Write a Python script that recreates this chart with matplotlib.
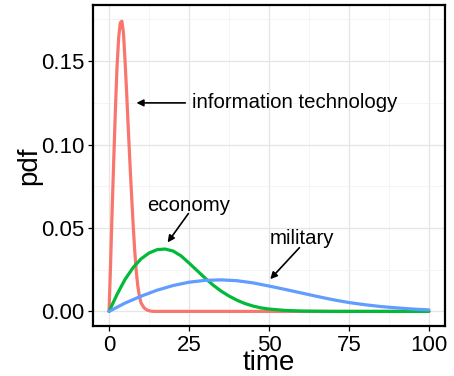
import matplotlib
matplotlib.use("Agg")
import matplotlib.pyplot as plt

plt.rcParams['font.family'] = ['Liberation Sans', 'DejaVu Sans']

# valores
t_it = [0, 0.5, 1, 1.5, 2, 2.5, 3, 3.5, 4, 4.5, 5, 5.5, 6, 6.5, 7, 7.5, 8, 8.5, 9, 9.5,
        10, 11, 12, 13, 14, 20, 30, 40, 50, 60, 70, 80, 90, 100]
pdf_it = [0, 0.030, 0.063, 0.093, 0.122, 0.147, 0.164, 0.173, 0.174, 0.167, 0.150, 0.131,
          0.110, 0.090, 0.071, 0.053, 0.037, 0.024, 0.015, 0.009,
          0.005, 0.002, 0.0007, 0.0002, 0, 0, 0, 0, 0, 0, 0, 0, 0, 0]

t_eco = [0, 2.5, 5, 7.5, 10, 12.5, 15, 17.5, 20, 22.5, 25, 27.5, 30, 32.5, 35, 37.5,
         40, 42.5, 45, 47.5, 50, 55, 60, 70, 80, 90, 100]
pdf_eco = [0, 0.0102, 0.0192, 0.0262, 0.0315, 0.0350, 0.0370, 0.0374, 0.0362, 0.0333,
           0.0290, 0.0245, 0.0200, 0.0158, 0.0122, 0.0092, 0.0067, 0.0047, 0.0032,
           0.0021, 0.0014, 0.0006, 0.0002, 0, 0, 0, 0]

t_mil = [0, 5, 10, 15, 20, 25, 30, 35, 40, 45, 50, 55, 60, 65, 70, 75, 80, 85, 90, 95, 100]
pdf_mil = [0, 0.0050, 0.0091, 0.0127, 0.0155, 0.0175, 0.0186, 0.0189, 0.0184, 0.0171,
           0.0152, 0.0132, 0.0111, 0.0090, 0.0070, 0.0053, 0.0040, 0.0029, 0.0021,
           0.0014, 0.0009]

x_ticks = [0, 25, 50, 75, 100]
y_ticks = [0.00, 0.05, 0.10, 0.15]
y_labels = ['0.00', '0.05', '0.10', '0.15']

fig = plt.figure(figsize=(4.54, 3.76), dpi=100)
ax = fig.add_axes([0.205, 0.133, 0.775, 0.854])

ax.plot(t_it, pdf_it, color='#F8766D', lw=2.3, solid_capstyle='round')
ax.plot(t_eco, pdf_eco, color='#00BA38', lw=2.3, solid_capstyle='round')
ax.plot(t_mil, pdf_mil, color='#619CFF', lw=2.3, solid_capstyle='round')

ax.set_xlim(-5, 105)
ax.set_ylim(-0.00875, 0.18375)
ax.set_xticks(x_ticks)
ax.set_xticks([12.5, 37.5, 62.5, 87.5], minor=True)
ax.set_yticks(y_ticks)
ax.set_yticklabels(y_labels)
ax.set_yticks([0.025, 0.075, 0.125, 0.175], minor=True)
ax.grid(which='major', color='#E5E5E5', lw=0.9)
ax.grid(which='minor', color='#F2F2F2', lw=0.6)
ax.set_axisbelow(True)
ax.tick_params(which='major', length=3.5, width=0.9, color='black', labelsize=16,
               labelcolor='black', pad=3)
ax.tick_params(which='minor', length=0)
for s in ax.spines.values():
    s.set_linewidth(1.6)
    s.set_color('black')

ax.set_xlabel('time', fontsize=20, va='baseline')
ax.xaxis.set_label_coords(0.5, -0.137)
ax.set_ylabel('pdf', fontsize=20, labelpad=-1)

arr = dict(arrowstyle='-|>', color='black', lw=1.2, mutation_scale=10)
ax.annotate('', xy=(7.7, 0.125), xytext=(24.7, 0.125), arrowprops=arr)
ax.text(25.8, 0.125, 'information technology', fontsize=14.7, va='center', ha='left')
ax.annotate('', xy=(17.8, 0.040), xytext=(25.3, 0.060), arrowprops=arr)
ax.text(25.0, 0.0635, 'economy', fontsize=14.7, va='center', ha='center')
ax.annotate('', xy=(49.8, 0.0181), xytext=(60.1, 0.0394), arrowprops=arr)
ax.text(60.2, 0.044, 'military', fontsize=14.7, va='center', ha='center')

fig.savefig('out.png', dpi=100)
